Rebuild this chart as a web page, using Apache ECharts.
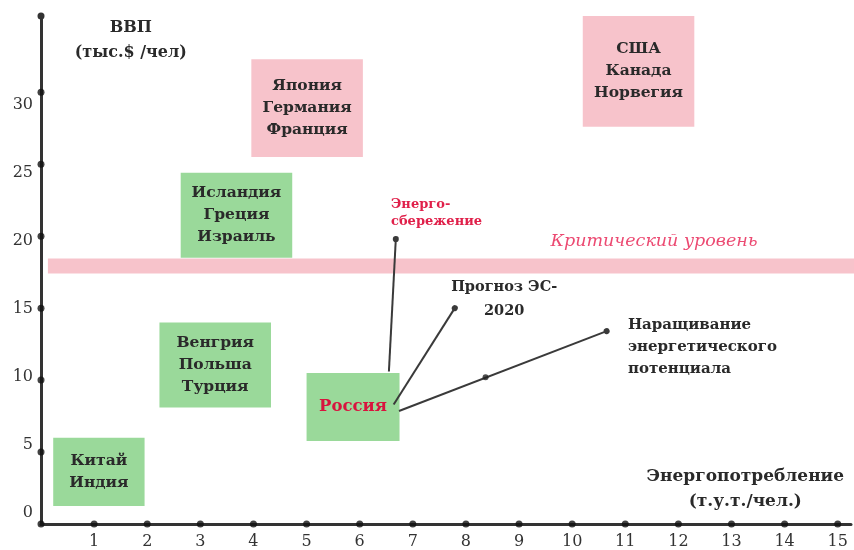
<!DOCTYPE html>
<html>
<head>
<meta charset="utf-8">
<script src="https://cdn.jsdelivr.net/npm/echarts@6/dist/echarts.min.js"></script>
<style>html,body{margin:0;padding:0;background:#fff}#c{width:854px;height:550px}</style>
</head>
<body>
<div id="c"></div>
<script>
// ---- data ----
var xTicks = [1,2,3,4,5,6,7,8,9,10,11,12,13,14,15];
var yTicks = [0,5,10,15,20,25,30];
// country groups: [name lines, x from, x to, y from, y to, kind]
var groupNames = ['Китай\nИндия', 'Венгрия\nПольша\nТурция', 'Исландия\nГреция\nИзраиль', 'Япония\nГермания\nФранция', 'США\nКанада\nНорвегия', 'Россия'];
var groupX0 = [0.23, 2.23, 2.63, 3.96, 10.2, 5.0];
var groupX1 = [1.95, 4.33, 4.73, 6.06, 12.3, 6.75];
var groupY0 = [1.25, 8.1, 18.5, 25.5, 27.6, 5.76];
var groupY1 = [6.0, 14.0, 24.4, 32.3, 35.3, 10.5];
var groupKind = ['green','green','green','pink','pink','russia'];
// critical level band
var criticalLow = 17.4, criticalHigh = 18.45;
// scenario arrows from Russia
var arrowNames = ['Энерго-\nсбережение', 'Прогноз ЭС-\n2020', 'Наращивание\nэнергетического\nпотенциала'];
var arrowStart = [[6.55, 10.6], [6.64, 8.3], [6.74, 7.85]];
var arrowEnd = [[6.68, 19.8], [7.79, 15.0], [10.65, 13.4]];
var arrowMid = [[8.37, 10.2]];
// annotation texts
var yTitle = 'ВВП\n(тыс.$ /чел)';
var xTitle = 'Энергопотребление\n(т.у.т./чел.)';
var criticalTitle = 'Критический уровень';

var chart = echarts.init(document.getElementById('c'), null, {renderer:'canvas'});
var SERIF = '"DejaVu Serif","Liberation Serif",serif';

var boxData = groupNames.map(function(n,i){return [groupX0[i],groupX1[i],groupY0[i],groupY1[i],n,groupKind[i]];});

var texts = [
  {v:[1.69,33.6], t:yTitle, align:'center', color:'#2a2a2a', size:16, style:'normal', weight:'bold', lh:25},
  {v:[6.59,21.6], t:arrowNames[0], align:'left', color:'#e0204a', size:13, style:'normal', weight:'bold', lh:17},
  {v:[11.54,19.6], t:criticalTitle, align:'center', color:'#ec4a72', size:17.5, style:'italic', weight:'normal', lh:18},
  {v:[8.72,15.6], t:arrowNames[1], align:'center', color:'#2a2a2a', size:14.5, style:'normal', weight:'bold', lh:24},
  {v:[11.05,12.3], t:arrowNames[2], align:'left', color:'#2a2a2a', size:15, style:'normal', weight:'bold', lh:22},
  {v:[13.26,2.46], t:xTitle, align:'center', color:'#2a2a2a', size:17, style:'normal', weight:'bold', lh:25}
];

var dots = [];
xTicks.forEach(function(x){dots.push([x,0]);});
yTicks.forEach(function(y){dots.push([0,y]);});

var option = {
  animation:false,
  backgroundColor:'#fff',
  grid:{left:41,right:0,top:16,bottom:25,containLabel:false},
  xAxis:{type:'value',min:0,max:15.25,interval:1,
    axisLine:{onZero:false,lineStyle:{color:'#333',width:3}},
    axisTick:{show:false},splitLine:{show:false},
    axisLabel:{margin:10,color:'#333',fontFamily:SERIF,fontSize:16,
      formatter:function(v){return xTicks.indexOf(v)>=0?String(v):'';}}},
  yAxis:[
    {type:'value',min:0,max:35.3,interval:5,
    axisLine:{onZero:false,lineStyle:{color:'#333',width:3},symbol:['none','circle'],symbolSize:[7,7]},
    axisTick:{show:false},splitLine:{show:false},
    axisLabel:{show:false}},
    {type:'value',position:'left',min:-0.807,max:36.53,
    axisLine:{show:false},axisTick:{show:false},splitLine:{show:false},
    axisLabel:{margin:8,color:'#333',fontFamily:SERIF,fontSize:16,customValues:yTicks}}
  ],
  series:[
    {type:'custom',clip:false,z:2,data:[[criticalLow,criticalHigh]],
      renderItem:function(params,api){
        var a=api.coord([0.13,api.value(1)]);var b=api.coord([15.25,api.value(0)]);
        return {type:'rect',shape:{x:a[0],y:a[1],width:b[0]-a[0]+10,height:b[1]-a[1]},style:{fill:'#f7c3cb'}};
      }},
    {type:'custom',clip:false,z:3,data:boxData,
      renderItem:function(params,api){
        var d=boxData[params.dataIndex];
        var a=api.coord([d[0],d[3]]);var b=api.coord([d[1],d[2]]);
        var fill=d[5]==='pink'?'#f7c3cb':'#9ad99a';
        var russia=d[5]==='russia';
        return {type:'group',children:[
          {type:'rect',shape:{x:a[0],y:a[1],width:b[0]-a[0],height:b[1]-a[1]},style:{fill:fill}},
          {type:'text',style:{text:d[4],x:(a[0]+b[0])/2,y:(a[1]+b[1])/2,align:'center',verticalAlign:'middle',
            fill:russia?'#d8143e':'#2a2a2a',fontFamily:SERIF,fontSize:russia?16.5:15.5,fontWeight:'bold',lineHeight:22}}
        ]};
      }},
    {type:'lines',coordinateSystem:'cartesian2d',z:4,
      symbol:['none','circle'],symbolSize:6,
      lineStyle:{color:'#3a3a3a',width:2,opacity:1,curveness:0},
      data:arrowStart.map(function(s,i){return {coords:[s,arrowEnd[i]]};})},
    {type:'scatter',z:5,clip:false,symbol:'circle',symbolSize:6,itemStyle:{color:'#222'},data:arrowMid},
    {type:'scatter',z:5,clip:false,symbol:'circle',symbolSize:7,itemStyle:{color:'#111'},data:dots},
    {type:'custom',clip:false,z:6,data:texts.map(function(t){return t.v;}),
      renderItem:function(params,api){
        var t=texts[params.dataIndex];var p=api.coord(t.v);
        return {type:'text',style:{text:t.t,x:p[0],y:p[1],align:t.align,verticalAlign:'middle',fill:t.color,
          fontFamily:SERIF,fontSize:t.size,fontStyle:t.style,fontWeight:t.weight,lineHeight:t.lh}};
      }}
  ]
};
chart.setOption(option);
</script>
</body>
</html>
